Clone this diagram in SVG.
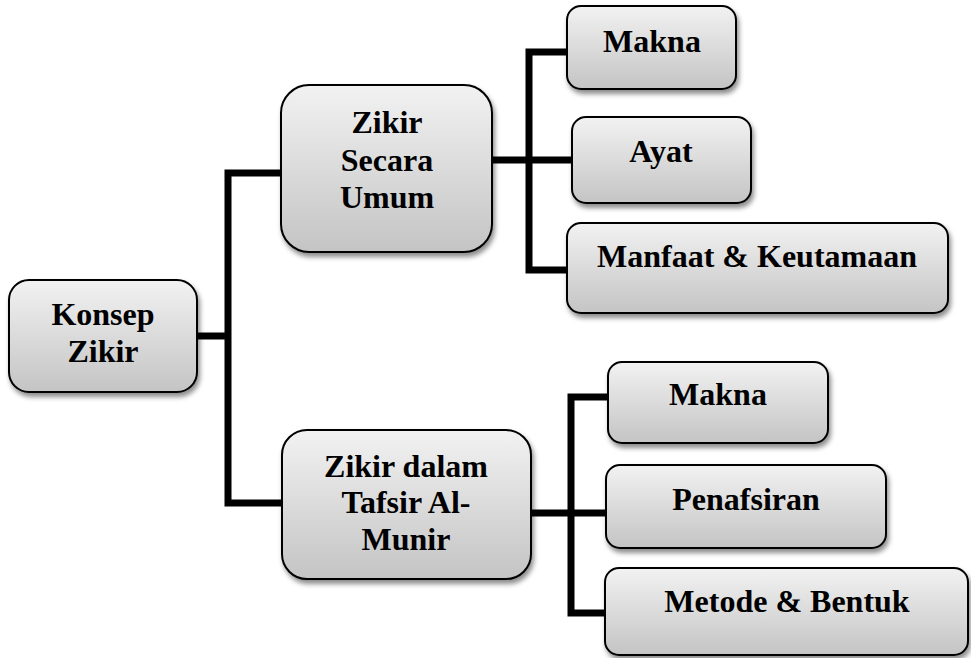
<svg xmlns="http://www.w3.org/2000/svg" width="971" height="658" viewBox="0 0 971 658">
<defs>
<linearGradient id="g" x1="0" y1="0" x2="0" y2="1">
<stop offset="0" stop-color="#f2f2f2"/>
<stop offset="1" stop-color="#c4c4c4"/>
</linearGradient>
<filter id="sh" x="-10%" y="-10%" width="125%" height="130%">
<feDropShadow dx="2" dy="4" stdDeviation="2.5" flood-color="#000" flood-opacity="0.45"/>
</filter>
<style>
.box{fill:url(#g);stroke:#000;stroke-width:2;filter:url(#sh)}
.t{font-family:"Liberation Serif","Times New Roman",serif;font-weight:700;font-size:32px;fill:#000;text-anchor:middle}
.c{fill:none;stroke:#000;stroke-width:7;stroke-linecap:butt;stroke-linejoin:miter}
</style>
</defs>
<rect width="971" height="658" fill="#fff"/>
<g id="connectors">
<path class="c" d="M197,336 H228"/>
<path class="c" d="M283,173 H228 V503 H283"/>
<path class="c" d="M492,160 H572"/>
<path class="c" d="M568,52 H529 V270 H569"/>
<path class="c" d="M531,513 H606"/>
<path class="c" d="M609,397 H571 V613 H607"/>
</g>
<g id="konsep">
<rect class="box" x="9" y="280" width="188" height="112" rx="20"/>
<text class="t" x="103" y="325">Konsep</text>
<text class="t" x="103" y="362">Zikir</text>
</g>
<g id="umum">
<rect class="box" x="281" y="85" width="211" height="167" rx="28"/>
<text class="t" x="387" y="133">Zikir</text>
<text class="t" x="387" y="171">Secara</text>
<text class="t" x="387" y="208">Umum</text>
</g>
<g id="makna1">
<rect class="box" x="567" y="6" width="169" height="83" rx="14"/>
<text class="t" x="652" y="52">Makna</text>
</g>
<g id="ayat">
<rect class="box" x="572" y="117" width="179" height="86" rx="14"/>
<text class="t" x="661" y="162">Ayat</text>
</g>
<g id="manfaat">
<rect class="box" x="567" y="223" width="381" height="90" rx="14"/>
<text class="t" x="757" y="267">Manfaat &amp; Keutamaan</text>
</g>
<g id="munir">
<rect class="box" x="282" y="430" width="249" height="149" rx="25"/>
<text class="t" x="406" y="477">Zikir dalam</text>
<text class="t" x="406" y="513">Tafsir Al-</text>
<text class="t" x="406" y="550">Munir</text>
</g>
<g id="makna2">
<rect class="box" x="608" y="362" width="220" height="81" rx="14"/>
<text class="t" x="718" y="405">Makna</text>
</g>
<g id="penafsiran">
<rect class="box" x="606" y="465" width="280" height="83" rx="14"/>
<text class="t" x="746" y="510">Penafsiran</text>
</g>
<g id="metode">
<rect class="box" x="605" y="568" width="363" height="87" rx="14"/>
<text class="t" x="787" y="612">Metode &amp; Bentuk</text>
</g>
</svg>
